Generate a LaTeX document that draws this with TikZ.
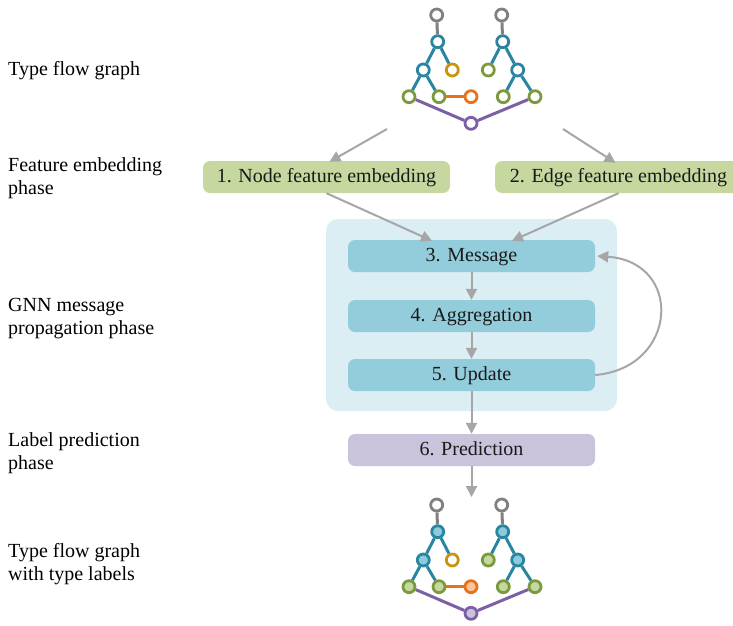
\documentclass[tikz,border=0pt]{standalone}
\usepackage{fontspec}
\setmainfont{Liberation Serif}
\usetikzlibrary{arrows.meta}
\definecolor{arrowgray}{HTML}{A6A6A6}
\definecolor{greenbox}{HTML}{C6D8A0}
\definecolor{msgbox}{HTML}{93CDDB}
\definecolor{panelbg}{HTML}{DBEEF4}
\definecolor{predbox}{HTML}{CBC3DC}
\definecolor{tealc}{HTML}{2A86A0}
\definecolor{grayc}{HTML}{808080}
\definecolor{goldc}{HTML}{C8960C}
\definecolor{greenc}{HTML}{7A9A3C}
\definecolor{orangec}{HTML}{E8711C}
\definecolor{purplec}{HTML}{7D5FA5}
\definecolor{tealfill}{HTML}{8CCBDB}
\definecolor{greenfill}{HTML}{C6D8A0}
\definecolor{orangefill}{HTML}{F8C59C}
\definecolor{purplefill}{HTML}{CBC3DC}
\begin{document}
\begin{tikzpicture}[x=1pt,y=-1pt,
  font=\fontsize{20}{23}\selectfont,
  phaselabel/.style={anchor=base west, inner sep=0pt, align=left},
  stage/.style={rounded corners=7pt, minimum width=247pt, minimum height=32pt, inner sep=0pt, text height=15.5pt, text depth=4pt, text=black!90},
  flow/.style={draw=arrowgray, line width=2pt, -{Triangle[length=11pt,width=11pt]}},
  gn/.style={circle, line width=2.8pt, minimum size=12pt, inner sep=0pt},
  ge/.style={line width=3pt}]
\useasboundingbox (0,0) rectangle (733,625);

% left phase labels (base anchor = last line baseline)
\node[phaselabel] (l1) at (8,75) {Type flow graph};
\node[phaselabel] (l2) at (8,194) {Feature embedding\\phase};
\node[phaselabel] (l3) at (8,334) {GNN message\\propagation phase};
\node[phaselabel] (l4) at (8,469) {Label prediction\\phase};
\node[phaselabel] (l5) at (8,580) {Type flow graph\\with type labels};

% panel
\node[fill=panelbg, rounded corners=12pt, minimum width=291pt, minimum height=192pt, inner sep=0pt] (panel) at (471.5,315) {};

% stages
\node[stage, fill=greenbox] (emb1) at (326.5,177) {1. Node feature embedding};
\node[stage, fill=greenbox] (emb2) at (618.5,177) {2. Edge feature embedding};
\node[stage, fill=msgbox] (msg) at (471.5,256) {3. Message};
\node[stage, fill=msgbox] (agg) at (471.5,316) {4. Aggregation};
\node[stage, fill=msgbox] (upd) at (471.5,375) {5. Update};
\node[stage, fill=predbox] (pred) at (471.5,450) {6. Prediction};

% graphs
\foreach \p/\dy/\ft/\fg/\fo/\fp in {a/0/white/white/white/white, b/490/tealfill/greenfill/orangefill/purplefill}{
  \node[gn, draw=grayc, fill=white] (\p g1) at (436.7,15+\dy) {};
  \node[gn, draw=grayc, fill=white] (\p g2) at (501.7,15+\dy) {};
  \node[gn, draw=tealc, fill=\ft] (\p t1) at (437.7,41.7+\dy) {};
  \node[gn, draw=tealc, fill=\ft] (\p t2) at (502.7,41.7+\dy) {};
  \node[gn, draw=tealc, fill=\ft] (\p t3) at (423.3,70+\dy) {};
  \node[gn, draw=goldc, fill=white] (\p y1) at (452.3,70+\dy) {};
  \node[gn, draw=greenc, fill=\fg] (\p c1) at (488.3,70+\dy) {};
  \node[gn, draw=tealc, fill=\ft] (\p t4) at (517.7,70+\dy) {};
  \node[gn, draw=greenc, fill=\fg] (\p c2) at (409,96.7+\dy) {};
  \node[gn, draw=greenc, fill=\fg] (\p c3) at (439,96.7+\dy) {};
  \node[gn, draw=orangec, fill=\fo] (\p o1) at (471,96.7+\dy) {};
  \node[gn, draw=greenc, fill=\fg] (\p c4) at (503.3,96.7+\dy) {};
  \node[gn, draw=greenc, fill=\fg] (\p c5) at (535,96.7+\dy) {};
  \node[gn, draw=purplec, fill=\fp] (\p v1) at (471,123.3+\dy) {};
  \draw[ge, grayc] (\p g1) -- (\p t1);
  \draw[ge, grayc] (\p g2) -- (\p t2);
  \draw[ge, tealc] (\p t1) -- (\p t3);
  \draw[ge, tealc] (\p t1) -- (\p y1);
  \draw[ge, tealc] (\p t3) -- (\p c2);
  \draw[ge, tealc] (\p t3) -- (\p c3);
  \draw[ge, tealc] (\p t2) -- (\p c1);
  \draw[ge, tealc] (\p t2) -- (\p t4);
  \draw[ge, tealc] (\p t4) -- (\p c4);
  \draw[ge, tealc] (\p t4) -- (\p c5);
  \draw[ge, orangec] (\p c3) -- (\p o1);
  \draw[ge, purplec] (\p c2) -- (\p v1);
  \draw[ge, purplec] (\p c5) -- (\p v1);
}

% arrows
\coordinate (s1) at (387,129);
\coordinate (s2) at (563,129);
\coordinate (btop) at (471.5,497);
\draw[flow] (s1) -- ([xshift=3pt,yshift=-1pt]emb1.north);
\draw[flow] (s2) -- ([xshift=-3pt,yshift=-2pt]emb2.north);
\draw[flow] (emb1.south) -- ([xshift=-39.5pt,yshift=-1pt]msg.north);
\draw[flow] (emb2.south) -- ([xshift=40.5pt,yshift=-1pt]msg.north);
\draw[flow] (msg.south) -- (agg.north);
\draw[flow] (agg.south) -- (upd.north);
\draw[flow] (upd.south) -- (pred.north);
\draw[flow] (pred.south) -- (btop);
\draw[flow] (upd.east) .. controls (678,368) and (684,262) .. ([xshift=2pt]msg.east);
\end{tikzpicture}
\end{document}
